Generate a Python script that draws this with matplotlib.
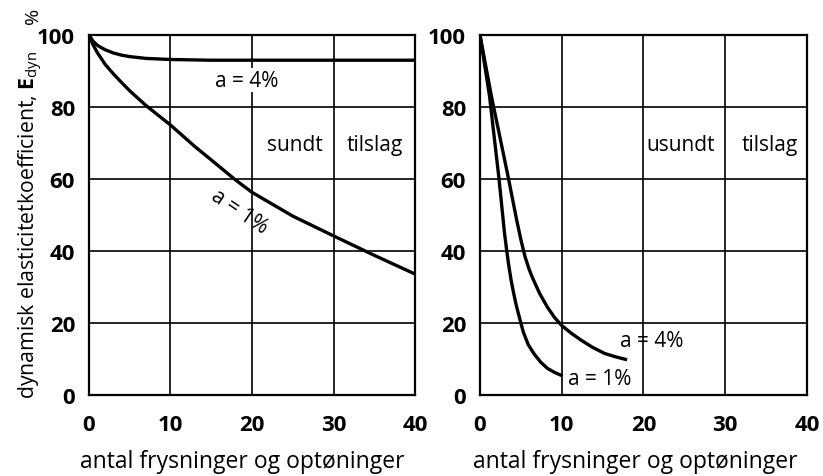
import numpy as np
import matplotlib
matplotlib.use("Agg")
import matplotlib.pyplot as plt

plt.rcParams['font.family'] = ['Open Sans', 'DejaVu Sans']
plt.rcParams['mathtext.fontset'] = 'custom'
plt.rcParams['mathtext.rm'] = 'Open Sans'
plt.rcParams['mathtext.bf'] = 'Open Sans:bold'

# venstre diagram: sundt tilslag
x_sund_4 = [0, 0.5, 1, 1.5, 2, 3, 4, 5, 7, 10, 15, 20, 30, 40]
y_sund_4 = [100, 98.3, 97.2, 96.5, 95.9, 95.0, 94.4, 94.0, 93.5, 93.2, 93.0, 93.0, 93.0, 93.0]
x_sund_1 = [0, 0.5, 1, 2, 3, 4, 5, 7, 10, 13, 15, 18, 20, 25, 30, 35, 40]
y_sund_1 = [100, 97.3, 95.2, 91.8, 89.2, 86.8, 84.5, 80.4, 75, 69, 65.3, 59.7, 56.3, 49.7, 44.2, 38.8, 33.6]

# højre diagram: usundt tilslag
x_usund_4 = [0, 1.4, 3.5, 4.5, 5.0, 5.5, 6.0, 6.4, 7.3, 8.25, 9.1, 10, 11.2, 12.4, 13.8, 15.3, 16.6, 17.8]
y_usund_4 = [100, 83, 60, 48.5, 43.2, 38.5, 35, 32.7, 28.2, 24.4, 21.6, 19.3, 17.1, 15.2, 13.2, 11.5, 10.6, 9.9]
x_usund_1 = [0, 1.17, 2.33, 3.0, 3.25, 3.5, 3.8, 4.1, 4.4, 4.7, 5.3, 5.9, 6.6, 7.4, 8.25, 9.1, 9.9]
y_usund_1 = [100, 83, 60, 45, 40.5, 36.3, 32, 28.5, 25.3, 22.6, 17.5, 14, 11.5, 9.2, 7.4, 6.3, 5.5]

xticks = [0, 10, 20, 30, 40]
yticks = [0, 20, 40, 60, 80, 100]
xlabel = "antal frysninger og optøninger"

fig = plt.figure(figsize=(8.23, 4.77), dpi=100)
ax1 = fig.add_axes([0.1081, 0.1698, 0.3962, 0.7547])
ax2 = fig.add_axes([0.5832, 0.1698, 0.3973, 0.7547])

for ax in (ax1, ax2):
    ax.set_xlim(0, 40)
    ax.set_ylim(0, 100)
    ax.set_xticks(xticks)
    ax.set_yticks(yticks)
    ax.set_xticklabels([str(t) for t in xticks], fontsize=16, fontweight='bold')
    ax.set_yticklabels([str(t) for t in yticks], fontsize=16, fontweight='bold')
    ax.tick_params(axis='x', length=0, pad=14)
    ax.tick_params(axis='y', length=0, pad=10)
    ax.grid(True, color='black', linewidth=1.2)
    for s in ax.spines.values():
        s.set_linewidth(1.6)
        s.set_color('black')

# aksetitler under hvert diagram
fig.text(0.295, 0.031, xlabel, fontsize=16.5, ha='center', va='center')
fig.text(0.772, 0.031, xlabel, fontsize=16.5, ha='center', va='center')

tfs = 15
ax1.plot(x_sund_4, y_sund_4, color='black', linewidth=2.4)
ax1.plot(x_sund_1, y_sund_1, color='black', linewidth=2.4)
ax1.text(19.4, 87.5, "a = 4%", fontsize=tfs, ha='center', va='center',
         bbox=dict(facecolor='white', edgecolor='none', pad=1))
ax1.text(18.5, 51, "a = 1%", fontsize=tfs, ha='center', va='center', rotation=-34)
ax1.text(25.3, 69.5, "sundt", fontsize=tfs, ha='center', va='center')
ax1.text(35.1, 69.5, "tilslag", fontsize=tfs, ha='center', va='center')
ax1.set_ylabel(r"dynamisk elasticitetkoefficient, $\mathbf{E}_{\mathrm{dyn}}$", fontsize=15.3)
ax1.yaxis.set_label_coords(-0.135, 0.475)
fig.text(0.040, 0.967, "%", fontsize=14, rotation=90, ha='center', va='center')

ax2.plot(x_usund_4, y_usund_4, color='black', linewidth=2.4)
ax2.plot(x_usund_1, y_usund_1, color='black', linewidth=2.4)
ax2.text(24.5, 69.6, "usundt", fontsize=tfs, ha='center', va='center')
ax2.text(35.5, 69.6, "tilslag", fontsize=tfs, ha='center', va='center')
ax2.text(21, 15.2, "a = 4%", fontsize=tfs, ha='center', va='center')
ax2.text(14.7, 4.7, "a = 1%", fontsize=tfs, ha='center', va='center')

fig.savefig("out.png", dpi=100)
